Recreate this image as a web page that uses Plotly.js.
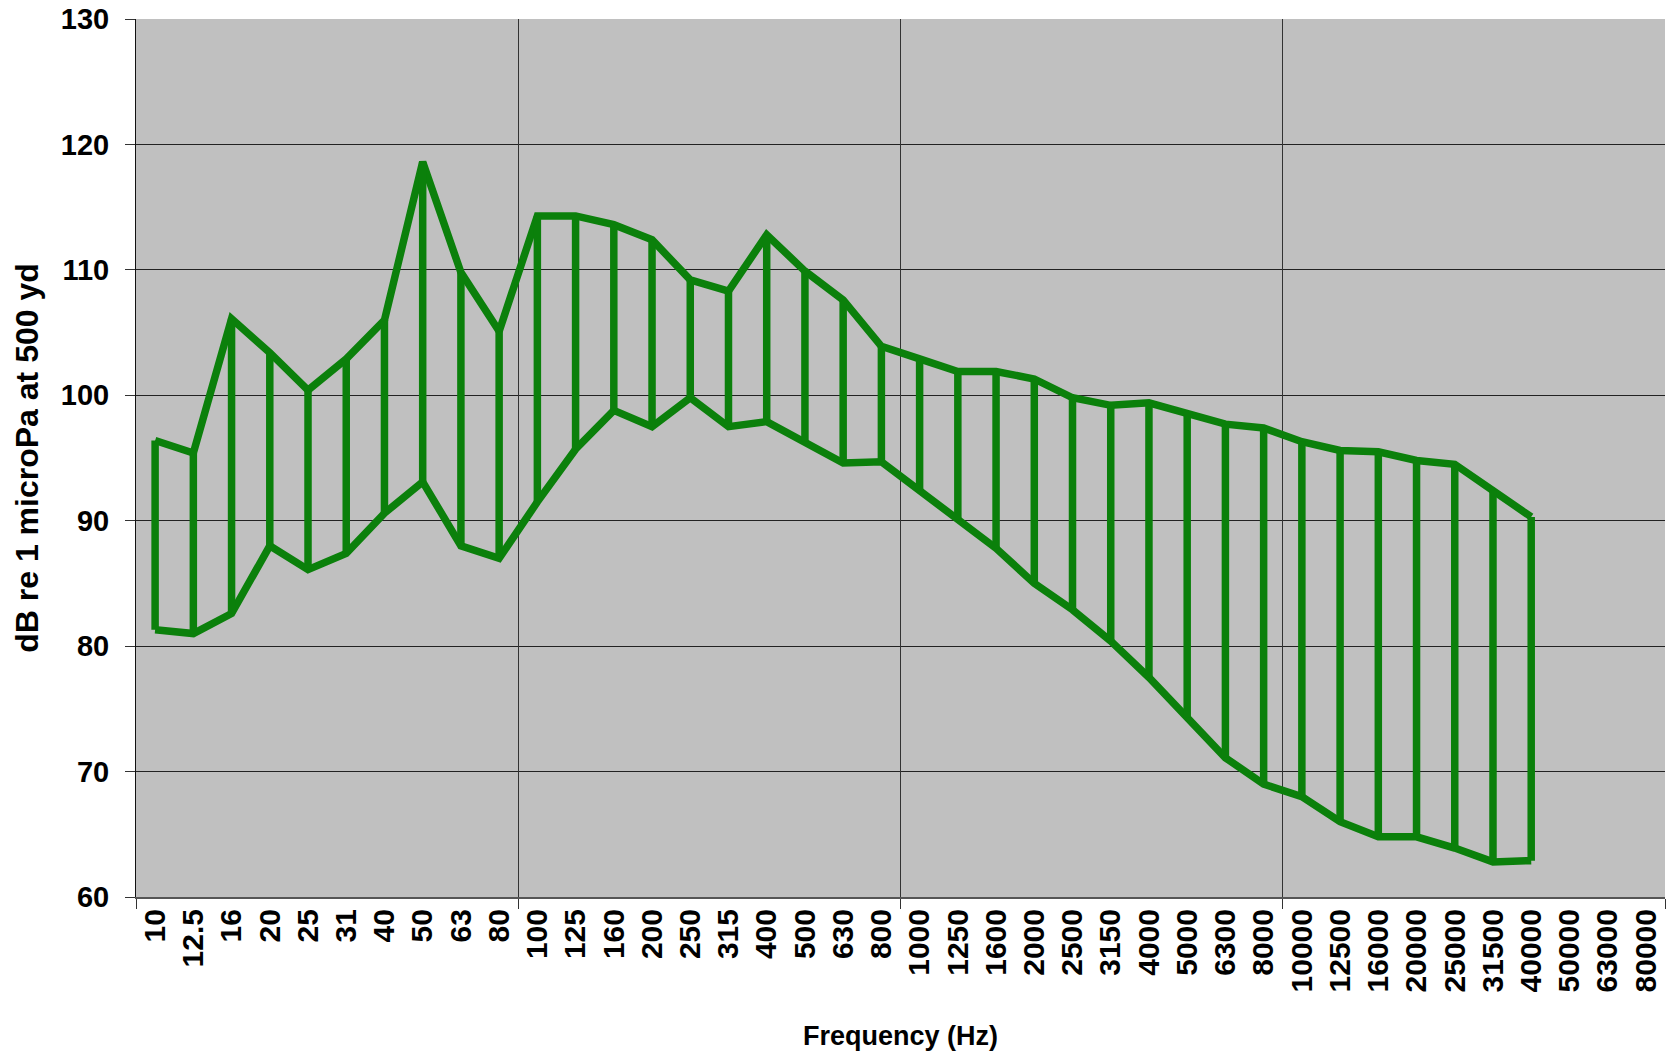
<!DOCTYPE html>
<html>
<head>
<meta charset="utf-8">
<script src="https://cdn.plot.ly/plotly-3.0.1.min.js"></script>
<style>html,body{margin:0;padding:0;background:#fff;}#chart{width:1670px;height:1054px;}</style>
</head>
<body>
<div id="chart"></div>
<script>
const categories = ['10','12.5','16','20','25','31','40','50','63','80','100','125','160','200','250','315','400','500','630','800','1000','1250','1600','2000','2500','3150','4000','5000','6300','8000','10000','12500','16000','20000','25000','31500','40000','50000','63000','80000'];
const dataCategories = categories.slice(0, 37);
const highValues = [96.4, 95.4, 106.1, 103.4, 100.4, 102.9, 106.0, 118.6, 109.8, 105.1, 114.3, 114.3, 113.6, 112.4, 109.2, 108.3, 112.8, 109.9, 107.6, 103.9, 102.9, 101.9, 101.9, 101.3, 99.8, 99.2, 99.4, 98.5, 97.7, 97.4, 96.3, 95.6, 95.5, 94.8, 94.5, 92.4, 90.3];
const lowValues = [81.3, 81.0, 82.6, 88.0, 86.1, 87.4, 90.6, 93.1, 88.0, 87.0, 91.5, 95.7, 98.8, 97.5, 99.8, 97.5, 97.9, 96.3, 94.6, 94.7, 92.4, 90.1, 87.8, 85.0, 82.9, 80.4, 77.5, 74.3, 71.1, 69.0, 68.0, 66.0, 64.8, 64.8, 63.9, 62.8, 62.9];
const yTicks = [60, 70, 80, 90, 100, 110, 120, 130];
// vertical gridlines sit on the boundaries between every 10th category
const gridBoundaries = [-0.5, 9.5, 19.5, 29.5, 39.5];

const green = '#0b800b';
const lw = 7.5;
const font = 'Arial, "Liberation Sans", sans-serif';

// high-low connector lines built from the data arrays
const hlX = [], hlY = [];
dataCategories.forEach((c, i) => {
  hlX.push(c, c, c);
  hlY.push(lowValues[i], highValues[i], null);
});

const traces = [
  {type: 'scatter', mode: 'lines', x: dataCategories, y: highValues, name: 'High',
   line: {color: green, width: lw}, showlegend: false},
  {type: 'scatter', mode: 'lines', x: dataCategories, y: lowValues, name: 'Low',
   line: {color: green, width: lw}, showlegend: false},
  {type: 'scatter', mode: 'lines', x: hlX, y: hlY, connectgaps: false, xaxis: 'x2', yaxis: 'y',
   name: 'High-Low', line: {color: green, width: lw}, hoverinfo: 'skip', showlegend: false}
];

const nCat = categories.length;
const layout = {
  width: 1670, height: 1054,
  margin: {l: 136, r: 5, t: 19, b: 157},
  paper_bgcolor: '#ffffff',
  plot_bgcolor: '#c0c0c0',
  font: {family: font, color: '#000'},
  showlegend: false,
  xaxis: {
    type: 'category',
    categoryorder: 'array', categoryarray: categories,
    range: [-0.5, nCat - 0.5],
    tickvals: categories, ticktext: categories,
    tickangle: -90,
    ticks: '',
    ticklabelstandoff: 5,
    tickfont: {family: font, size: 30, weight: 700, color: '#000'},
    showgrid: false, zeroline: false, showline: false,
    title: {text: 'Frequency (Hz)', font: {family: font, size: 27, weight: 700, color: '#000'}, standoff: 34},
    automargin: false
  },
  xaxis2: {
    type: 'category', overlaying: 'x', anchor: 'y', side: 'bottom',
    categoryorder: 'array', categoryarray: categories,
    range: [-0.5, nCat - 0.5],
    tickmode: 'array', tickvals: gridBoundaries,
    showticklabels: false,
    ticks: 'outside', ticklen: 10, tickcolor: '#333', tickwidth: 1,
    showgrid: true, gridcolor: '#333', gridwidth: 1,
    showline: true, linecolor: '#555', linewidth: 2,
    zeroline: false
  },
  yaxis: {
    range: [60, 130],
    tickvals: yTicks,
    ticks: 'outside', ticklen: 10, tickcolor: '#333',
    ticklabelstandoff: 10,
    tickfont: {family: font, size: 29, weight: 700, color: '#000'},
    showgrid: true, gridcolor: '#222', gridwidth: 1,
    showline: true, linecolor: '#111', linewidth: 1,
    zeroline: false,
    title: {text: 'dB re 1 microPa at 500 yd', font: {family: font, size: 32, weight: 700, color: '#000'}, standoff: 12},
    automargin: false
  }
};

Plotly.newPlot('chart', traces, layout, {displayModeBar: false, staticPlot: true});
</script>
</body>
</html>
